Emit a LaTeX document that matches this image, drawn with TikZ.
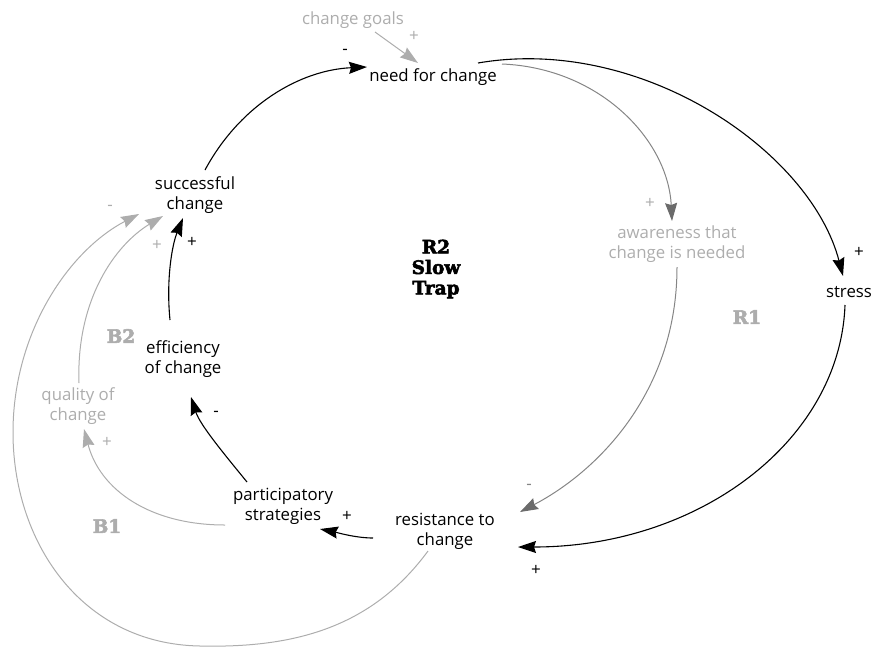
\documentclass[tikz,border=0pt]{standalone}
\usepackage{fontspec}
\setmainfont{Open Sans}
\newfontfamily\slabfont{DejaVu Serif}[BoldFeatures={FakeBold=3}]
\usetikzlibrary{arrows.meta}
\definecolor{lgray}{gray}{0.68}
\definecolor{mgray}{gray}{0.52}
\definecolor{dgray}{gray}{0.42}
\begin{document}
\begin{tikzpicture}[x=1pt,y=-1pt,
  every node/.style={inner sep=0pt, align=center},
  var/.style={font=\fontsize{16.8}{20}\selectfont, text=black},
  lvar/.style={font=\fontsize{16.8}{20}\selectfont, text=lgray},
  loopname/.style={font=\slabfont\bfseries\fontsize{18.5}{20.5}\selectfont},
  sign/.style={font=\fontsize{17}{17}\selectfont},
  blklink/.style={draw=black, line width=1.1pt, -{Stealth[length=18pt,width=12pt,inset=2pt]}},
  awlink/.style={draw=mgray, line width=1pt, -{Stealth[length=18pt,width=12pt,inset=2pt,fill=dgray,color=dgray]}},
  glink/.style={draw=lgray, line width=1pt, -{Stealth[length=18pt,width=12pt,inset=2pt]}}
]
\path[use as bounding box] (0,0) rectangle (874,648);

% variables
\node[lvar] (goals) at (353,20) {change goals};
\node[var] (need) at (433,77) {need for change};
\node[var] (succ) at (195,195) {successful\\change};
\node[lvar] (aware) at (677,244) {awareness that\\change is needed};
\node[var] (stress) at (849,292) {stress};
\node[var] (resist) at (445,531) {resistance to\\change};
\node[var] (partic) at (283,506) {participatory\\strategies};
\node[var] (effic) at (183,359) {efficiency\\of change};
\node[lvar] (quality) at (78,406) {quality of\\change};

% loop names
\node[loopname, text=black] (r2) at (436,269) {R2\\Slow\\Trap};
\node[loopname, text=lgray] (r1) at (747,317) {R1};
\node[loopname, text=lgray] (b2) at (121,336) {B2};
\node[loopname, text=lgray] (b1) at (107,526) {B1};

% links
\draw[glink] ([shift={(22,12)}]goals.center) -- ([shift={(-15,-14)}]need.center);
\draw[blklink] ([shift={(10,-25)}]succ.center) .. controls (240,105) and (300,70) .. ([shift={(-66,-10)}]need.center);
\draw[blklink] ([shift={(45,-14)}]need.center) .. controls (640,35) and (810,150) .. ([shift={(-6,-16)}]stress.center);
\draw[awlink] ([shift={(69,-13)}]need.center) .. controls (600,68) and (668,140) .. ([shift={(-5,-23)}]aware.center);
\draw[awlink] ([shift={(0,23)}]aware.center) .. controls (677,390) and (600,470) .. ([shift={(75,-19)}]resist.center);
\draw[blklink] ([shift={(-4,13)}]stress.center) .. controls (840,440) and (700,547) .. ([shift={(73,16)}]resist.center);
\draw[blklink] ([shift={(-72,7)}]resist.center) .. controls (355,538) and (335,532) .. ([shift={(37,23)}]partic.center);
\draw[blklink] ([shift={(-36,-24)}]partic.center) .. controls (225,455) and (200,425) .. ([shift={(8,38)}]effic.center);
\draw[blklink] ([shift={(-13,-39)}]effic.center) .. controls (166,280) and (172,245) .. ([shift={(-12,23)}]succ.center);
\draw[glink] ([shift={(-58,19)}]partic.center) .. controls (150,525) and (100,490) .. ([shift={(6,23)}]quality.center);
\draw[glink] ([shift={(1,-23)}]quality.center) .. controls (76,300) and (115,245) .. ([shift={(-32,21)}]succ.center);
\draw[glink] ([shift={(-17,20)}]resist.center) .. controls (370,630) and (290,648) .. (200,646)
  .. controls (80,644) and (12,540) .. (13,430)
  .. controls (14,330) and (70,250) .. ([shift={(-56,19)}]succ.center);

% polarity signs
\node[sign, text=lgray] (sgoals) at (414,36) {+};
\node[sign] (sneed) at (345,52) {-};
\node[sign, text=lgray] (saware) at (650,203) {+};
\node[sign] (sstress) at (859,252) {+};
\node[sign, text=mgray] (sres1) at (529,487) {-};
\node[sign] (sres2) at (536,570) {+};
\node[sign] (spart) at (347,516) {+};
\node[sign] (seff) at (216,414) {-};
\node[sign, text=lgray] (squal) at (107,442) {+};
\node[sign, text=lgray] (ssucc1) at (157,245) {+};
\node[sign] (ssucc2) at (192,242) {+};
\node[sign, text=lgray] (ssucc3) at (110,208) {-};
\end{tikzpicture}
\end{document}
